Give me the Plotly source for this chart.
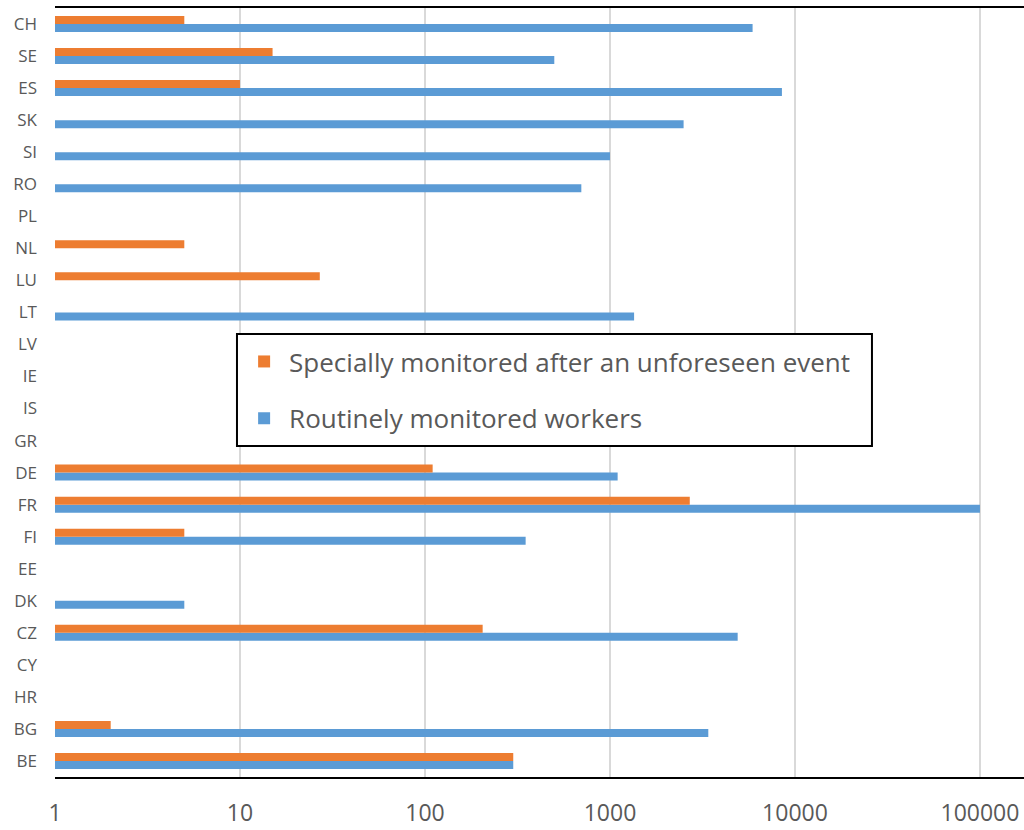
import plotly.graph_objects as go

countries = ["BE", "BG", "HR", "CY", "CZ", "DK", "EE", "FI", "FR", "DE", "GR", "IS",
             "IE", "LV", "LT", "LU", "NL", "PL", "RO", "SI", "SK", "ES", "SE", "CH"]

special_monitored = [300, 2, None, None, 205, None, None, 5, 2700, 110, None, None,
                     None, None, None, 27, 5, None, None, None, None, 10, 15, 5]

routine_monitored = [300, 3400, None, None, 4900, 5, None, 350, 100000, 1100, None, None,
                     None, None, 1350, None, None, None, 700, 1000, 2500, 8500, 500, 5900]

x_ticks = [1, 10, 100, 1000, 10000, 100000]
x_tick_labels = ["1", "10", "100", "1000", "10000", "100000"]

ORANGE = "#ED7D31"
BLUE = "#5B9BD5"
GREY_TEXT = "#595959"
FONT = "Open Sans, sans-serif"

fig = go.Figure()
# Routine bars first so the orange bar sits above the blue one in each pair
fig.add_trace(go.Bar(
    y=countries, x=routine_monitored, orientation="h",
    name="Routinely monitored workers", marker_color=BLUE,
    marker_line_width=0, legendgroup="routine", legendrank=2,
))
fig.add_trace(go.Bar(
    y=countries, x=special_monitored, orientation="h",
    name="Specially monitored after an unforeseen event", marker_color=ORANGE,
    marker_line_width=0, legendgroup="special", legendrank=1,
))

# White framed panel behind the legend entries
fig.add_shape(
    type="rect", xref="paper", yref="paper",
    x0=0.1878, x1=0.8431, y0=0.4304, y1=0.5761,
    fillcolor="white", line=dict(color="black", width=2), layer="above",
)

fig.update_layout(
    width=1024, height=830,
    margin=dict(l=55, r=0, t=8, b=53),
    paper_bgcolor="white", plot_bgcolor="white",
    barmode="group", bargap=0.5, bargroupgap=0,
    font=dict(family=FONT, color=GREY_TEXT),
    showlegend=True,
    legend=dict(
        x=0.190, y=0.5708, xanchor="left", yanchor="top",
        traceorder="grouped", tracegroupgap=20, itemwidth=40,
        borderwidth=0, bgcolor="rgba(0,0,0,0)",
        font=dict(size=26, color=GREY_TEXT, family=FONT),
    ),
)

fig.update_xaxes(
    type="log", range=[0, 5.238],
    tickvals=x_ticks, ticktext=x_tick_labels,
    tickfont=dict(size=23, color=GREY_TEXT),
    showgrid=True, gridcolor="#D9D9D9", gridwidth=2,
    showline=True, mirror=True, linecolor="black", linewidth=2,
    ticks="", zeroline=False, ticklabelstandoff=14,
)
fig.update_yaxes(
    type="category", categoryorder="array", categoryarray=countries,
    tickfont=dict(size=17, color=GREY_TEXT),
    showgrid=False, showline=False, ticks="", zeroline=False,
    ticklabelstandoff=17,
)

fig.write_html("out.html")
